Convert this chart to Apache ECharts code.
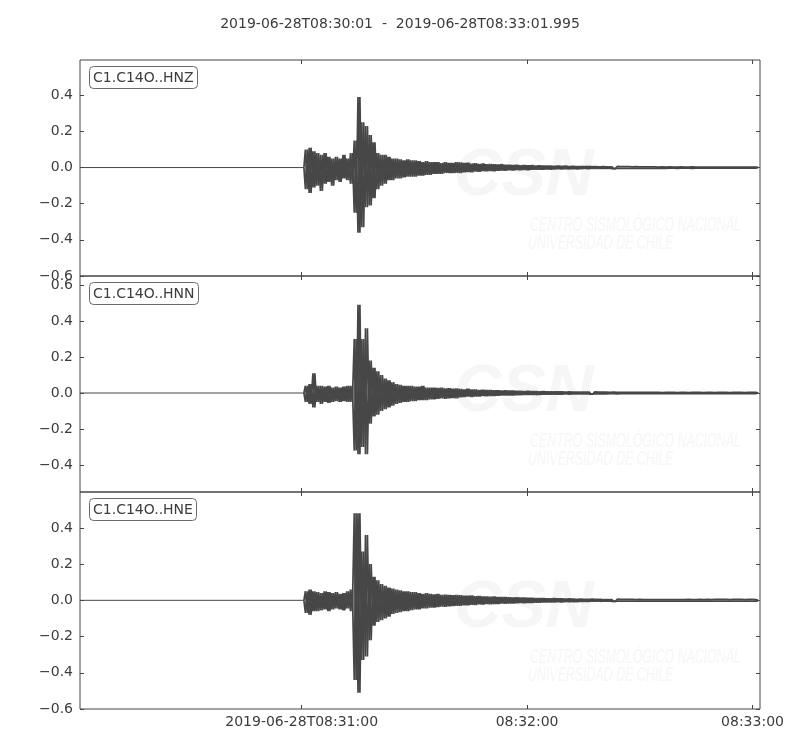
<!DOCTYPE html>
<html><head><meta charset="utf-8">
<script src="https://cdn.jsdelivr.net/npm/echarts@6.0.0/dist/echarts.min.js"></script>
<style>html,body{margin:0;padding:0;background:#fff}#c{width:800px;height:750px}</style>
</head><body><div id="c"></div>
<script>
// ---------------- data ----------------
const titleText = '2019-06-28T08:30:01  -  2019-06-28T08:33:01.995';
const traceNames = ['C1.C14O..HNZ', 'C1.C14O..HNN', 'C1.C14O..HNE'];
const timeSpan = 180.995;            // seconds after 08:30:01
const xTickValues = [59, 119, 179];  // seconds after 08:30:01
const xTickLabels = ['2019-06-28T08:31:00', '08:32:00', '08:33:00'];
const onsetTime = 59.6;              // trace is flat (0) before this
const firstPeakTime = 60;            // one upper and one lower peak per second from here

const yRangeZ = [-0.6, 0.595];
const yRangeN = [-0.55, 0.65];
const yRangeE = [-0.6, 0.598];
const yTicksZ = [-0.6, -0.4, -0.2, 0.0, 0.2, 0.4];
const yTicksN = [-0.4, -0.2, 0.0, 0.2, 0.4, 0.6];
const yTicksE = [-0.6, -0.4, -0.2, 0.0, 0.2, 0.4];

// HNZ upper / lower peaks, t = 60 .. 180 s
const hnzUp = [0.10,0.11,0.09,0.08,0.07,0.08,0.06,0.05,0.06,0.05,0.07,0.05,0.08,0.15,0.39,0.25,0.23,0.18,0.14,0.08,
  0.07,0.07,0.06,0.05,0.05,0.045,0.04,0.045,0.04,0.04,0.035,0.03,0.035,0.03,0.03,0.03,0.025,0.03,0.025,0.025,
  0.03,0.028,0.025,0.027,0.022,0.024,0.02,0.022,0.019,0.02,0.018,0.017,0.019,0.015,0.016,0.014,0.015,0.013,0.014,0.012,
  0.013,0.011,0.012,0.011,0.01,0.011,0.009,0.01,0.009,0.01,0.008,0.009,0.008,0.008,0.007,0.008,0.007,0.007,0.006,0.007,
  0.006,0.006,0.005,0.006,0.005,0.005,0.005,0.004,0.005,0.004,0.004,0.004,0.004,0.004,0.003,0.004,0.003,0.004,0.003,0.003,
  0.004,0.003,0.003,0.004,0.003,0.003,0.003,0.003,0.003,0.003,0.003,0.003,0.003,0.003,0.003,0.003,0.003,0.003,0.003,0.003,0.003];
const hnzLo = [-0.12,-0.14,-0.11,-0.10,-0.13,-0.09,-0.08,-0.10,-0.07,-0.08,-0.06,-0.07,-0.09,-0.25,-0.36,-0.33,-0.22,-0.21,-0.17,-0.12,
  -0.10,-0.09,-0.07,-0.07,-0.06,-0.06,-0.055,-0.05,-0.05,-0.05,-0.045,-0.045,-0.04,-0.04,-0.035,-0.035,-0.035,-0.03,-0.03,-0.03,
  -0.03,-0.03,-0.027,-0.025,-0.026,-0.022,-0.024,-0.02,-0.021,-0.019,-0.02,-0.018,-0.017,-0.018,-0.015,-0.016,-0.014,-0.015,-0.013,-0.014,
  -0.012,-0.012,-0.011,-0.012,-0.01,-0.011,-0.01,-0.009,-0.01,-0.009,-0.009,-0.008,-0.009,-0.008,-0.007,-0.008,-0.007,-0.007,-0.006,-0.007,
  -0.006,-0.006,-0.006,-0.005,-0.005,-0.005,-0.005,-0.005,-0.004,-0.004,-0.004,-0.004,-0.004,-0.004,-0.004,-0.003,-0.004,-0.003,-0.003,-0.004,
  -0.003,-0.003,-0.003,-0.004,-0.003,-0.003,-0.003,-0.003,-0.003,-0.003,-0.003,-0.003,-0.003,-0.003,-0.003,-0.003,-0.003,-0.003,-0.003,-0.003,-0.003];

// HNN upper / lower peaks, t = 60 .. 180 s
const hnnUp = [0.04,0.05,0.11,0.04,0.04,0.035,0.04,0.03,0.035,0.03,0.035,0.04,0.04,0.30,0.49,0.30,0.36,0.18,0.14,0.12,
  0.10,0.08,0.07,0.06,0.05,0.045,0.04,0.04,0.04,0.035,0.035,0.04,0.03,0.03,0.03,0.028,0.03,0.025,0.027,0.024,
  0.025,0.022,0.02,0.024,0.019,0.02,0.017,0.018,0.016,0.017,0.015,0.015,0.014,0.015,0.013,0.013,0.012,0.012,0.011,0.012,
  0.01,0.01,0.009,0.01,0.009,0.008,0.009,0.008,0.008,0.007,0.008,0.007,0.006,0.007,0.006,0.006,0.005,0.006,0.005,0.005,
  0.005,0.004,0.005,0.004,0.004,0.004,0.004,0.003,0.004,0.003,0.003,0.003,0.003,0.003,0.003,0.002,0.003,0.003,0.003,0.002,
  0.003,0.003,0.002,0.003,0.003,0.003,0.002,0.003,0.003,0.002,0.003,0.003,0.003,0.002,0.003,0.003,0.003,0.002,0.003,0.003,0.003];
const hnnLo = [-0.05,-0.06,-0.08,-0.05,-0.06,-0.05,-0.055,-0.05,-0.045,-0.05,-0.045,-0.05,-0.05,-0.32,-0.34,-0.30,-0.34,-0.17,-0.13,-0.12,
  -0.10,-0.09,-0.08,-0.07,-0.06,-0.055,-0.05,-0.05,-0.045,-0.045,-0.04,-0.04,-0.04,-0.035,-0.035,-0.033,-0.03,-0.032,-0.03,-0.028,
  -0.03,-0.024,-0.022,-0.02,-0.023,-0.019,-0.02,-0.017,-0.018,-0.016,-0.016,-0.015,-0.014,-0.014,-0.013,-0.013,-0.012,-0.012,-0.011,-0.011,
  -0.01,-0.011,-0.01,-0.009,-0.009,-0.009,-0.008,-0.008,-0.008,-0.007,-0.008,-0.007,-0.007,-0.006,-0.006,-0.006,-0.006,-0.005,-0.005,-0.005,
  -0.005,-0.004,-0.004,-0.005,-0.004,-0.004,-0.004,-0.003,-0.004,-0.003,-0.003,-0.003,-0.003,-0.003,-0.003,-0.003,-0.002,-0.003,-0.003,-0.003,
  -0.003,-0.002,-0.003,-0.003,-0.003,-0.002,-0.003,-0.003,-0.003,-0.003,-0.002,-0.003,-0.003,-0.003,-0.002,-0.003,-0.003,-0.003,-0.003,-0.002,-0.003];

// HNE upper / lower peaks, t = 60 .. 180 s
const hneUp = [0.05,0.06,0.05,0.045,0.04,0.05,0.045,0.04,0.045,0.035,0.04,0.05,0.06,0.48,0.48,0.27,0.36,0.20,0.13,0.11,
  0.09,0.08,0.07,0.065,0.06,0.055,0.05,0.05,0.045,0.045,0.04,0.035,0.04,0.035,0.033,0.035,0.03,0.032,0.03,0.028,
  0.03,0.028,0.026,0.025,0.027,0.023,0.024,0.021,0.022,0.02,0.021,0.019,0.018,0.019,0.017,0.016,0.017,0.015,0.015,0.014,
  0.014,0.013,0.012,0.013,0.011,0.011,0.012,0.01,0.01,0.009,0.01,0.009,0.008,0.009,0.008,0.007,0.008,0.007,0.007,0.006,
  0.006,0.006,0.005,0.006,0.005,0.005,0.005,0.005,0.004,0.005,0.004,0.004,0.004,0.004,0.004,0.004,0.004,0.004,0.004,0.004,
  0.004,0.004,0.005,0.004,0.004,0.005,0.004,0.005,0.004,0.005,0.005,0.005,0.005,0.004,0.005,0.005,0.005,0.004,0.005,0.005,0.004];
const hneLo = [-0.07,-0.08,-0.06,-0.06,-0.055,-0.05,-0.06,-0.05,-0.045,-0.05,-0.055,-0.045,-0.06,-0.44,-0.51,-0.33,-0.31,-0.22,-0.14,-0.12,
  -0.11,-0.10,-0.09,-0.075,-0.07,-0.065,-0.06,-0.06,-0.055,-0.05,-0.05,-0.045,-0.045,-0.04,-0.04,-0.038,-0.035,-0.036,-0.033,-0.032,
  -0.03,-0.03,-0.027,-0.028,-0.025,-0.026,-0.022,-0.024,-0.021,-0.022,-0.02,-0.02,-0.018,-0.019,-0.017,-0.017,-0.016,-0.015,-0.016,-0.014,
  -0.014,-0.013,-0.013,-0.012,-0.012,-0.011,-0.011,-0.01,-0.011,-0.009,-0.01,-0.009,-0.009,-0.008,-0.008,-0.008,-0.007,-0.007,-0.007,-0.006,
  -0.006,-0.006,-0.006,-0.005,-0.005,-0.005,-0.005,-0.005,-0.004,-0.005,-0.004,-0.004,-0.004,-0.004,-0.004,-0.004,-0.004,-0.004,-0.004,-0.004,
  -0.004,-0.005,-0.004,-0.004,-0.005,-0.004,-0.005,-0.004,-0.005,-0.004,-0.005,-0.005,-0.004,-0.005,-0.005,-0.005,-0.004,-0.005,-0.005,-0.004,-0.005];

// ---------------- chart ----------------
const traces = [
  { up: hnzUp, lo: hnzLo, range: yRangeZ, ticks: yTicksZ },
  { up: hnnUp, lo: hnnLo, range: yRangeN, ticks: yTicksN },
  { up: hneUp, lo: hneLo, range: yRangeE, ticks: yTicksE }
];

// zig-zag between the read peaks; phase 0: upper at t, lower at t+0.5;
// phase 1: lower at t, upper at t+0.5 (drawn together to give the dense trace look)
function buildTrace(up, lo, phase) {
  const d = [[onsetTime, 0]];
  for (let i = 0; i < up.length; i++) {
    const a = phase ? lo[i] : up[i];
    const b = phase ? up[i] : lo[i];
    d.push([firstPeakTime + i, a]);
    d.push([firstPeakTime + i + 0.5, b]);
  }
  return d;
}

const FONT = 'DejaVu Sans';
const INK = '#3c3c3c';
const FRAME = '#444444';
const TRACE = '#474747';
const gridTops = [60, 276, 492];
const gridHeights = [216, 216, 217];

const fmtY = v => (v < 0 ? '\u2212' + Math.abs(v).toFixed(1) : v.toFixed(1));

const grid = [], xAxis = [], yAxis = [], series = [], titles = [], graphics = [];

titles.push({
  text: titleText, left: 'center', top: 12,
  textStyle: { fontFamily: FONT, fontSize: 14, fontWeight: 'normal', color: INK }
});

traces.forEach((tr, i) => {
  grid.push({
    left: 80, top: gridTops[i], width: 680, height: gridHeights[i],
    show: true, borderColor: FRAME, borderWidth: 1, backgroundColor: 'transparent'
  });
  const xTick = { show: true, inside: true, length: 4, customValues: xTickValues, lineStyle: { color: FRAME, width: 1 } };
  xAxis.push({
    type: 'value', gridIndex: i, position: 'bottom', min: 0, max: timeSpan,
    axisLine: { show: false, onZero: false }, splitLine: { show: false },
    axisTick: xTick,
    axisLabel: {
      show: i === 2, customValues: xTickValues, margin: 6,
      fontFamily: FONT, fontSize: 14, color: INK,
      formatter: v => xTickLabels[xTickValues.indexOf(Math.round(v))]
    }
  });
  xAxis.push({
    type: 'value', gridIndex: i, position: 'top', min: 0, max: timeSpan,
    axisLine: { show: false, onZero: false }, splitLine: { show: false },
    axisTick: xTick, axisLabel: { show: false }
  });
  const yTick = { show: true, inside: true, length: 4, customValues: tr.ticks, lineStyle: { color: FRAME, width: 1 } };
  yAxis.push({
    type: 'value', gridIndex: i, position: 'left', min: tr.range[0], max: tr.range[1],
    axisLine: { show: false, onZero: false }, splitLine: { show: false },
    axisTick: yTick,
    axisLabel: { customValues: tr.ticks, margin: 7, fontFamily: FONT, fontSize: 14, color: INK, formatter: fmtY }
  });
  yAxis.push({
    type: 'value', gridIndex: i, position: 'right', min: tr.range[0], max: tr.range[1],
    axisLine: { show: false, onZero: false }, splitLine: { show: false },
    axisTick: yTick, axisLabel: { show: false }
  });
  // flat pre-event part of the trace
  series.push({
    type: 'line', name: traceNames[i], xAxisIndex: 2 * i, yAxisIndex: 2 * i,
    data: [[0, 0], [onsetTime, 0]],
    showSymbol: false, symbol: 'none', animation: false,
    lineStyle: { color: TRACE, width: 1 }, z: 3
  });
  [0, 1].forEach(phase => {
    series.push({
      type: 'line', name: traceNames[i], xAxisIndex: 2 * i, yAxisIndex: 2 * i,
      data: buildTrace(tr.up, tr.lo, phase),
      showSymbol: false, symbol: 'none', sampling: null, animation: false,
      lineStyle: { color: TRACE, width: 1.75, join: 'bevel' },
      z: 3
    });
  });
  titles.push({
    text: traceNames[i], left: 89, top: gridTops[i] + 6,
    padding: [4, 4, 2, 4], borderColor: '#6a6a6a', borderWidth: 1, borderRadius: 4,
    backgroundColor: '#ffffff',
    textStyle: { fontFamily: FONT, fontSize: 14, fontWeight: 'normal', color: INK, lineHeight: 17 }
  });
  // faint CSN watermark
  const wm = '#f6f6f6';
  graphics.push({
    type: 'text', left: 454, top: gridTops[i] + 84, z: 0, silent: true,
    style: { text: 'CSN', fill: wm, font: 'italic bold 66px "Liberation Sans"' }
  });
  graphics.push({
    type: 'text', x: 530, y: gridTops[i] + 155, scaleX: 0.62, z: 0, silent: true,
    style: { text: 'CENTRO SISMOLÓGICO NACIONAL', fill: wm, font: 'italic 20px "Liberation Sans"' }
  });
  graphics.push({
    type: 'text', x: 528, y: gridTops[i] + 173, scaleX: 0.62, z: 0, silent: true,
    style: { text: 'UNIVERSIDAD DE CHILE', fill: wm, font: 'italic 20px "Liberation Sans"' }
  });
});

const chart = echarts.init(document.getElementById('c'), null, { renderer: 'canvas' });
chart.setOption({
  animation: false,
  backgroundColor: '#ffffff',
  title: titles,
  grid, xAxis, yAxis, series,
  graphic: graphics
});
</script>
</body></html>
